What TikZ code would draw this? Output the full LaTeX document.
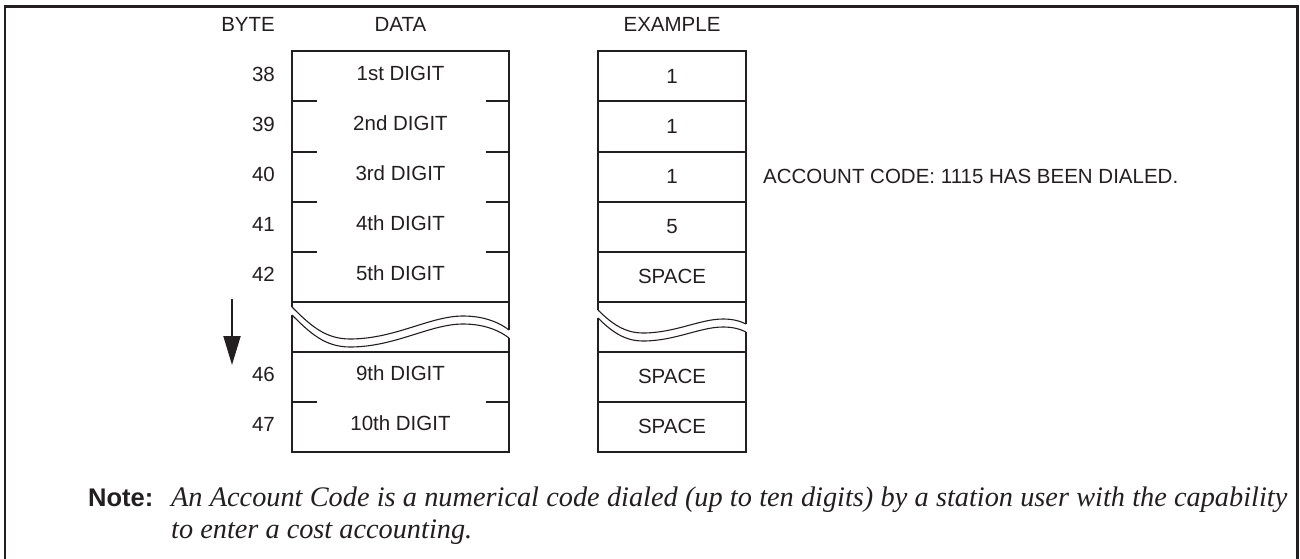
\documentclass[tikz,border=0pt]{standalone}
\usepackage{fontspec}
\setmainfont{Liberation Serif}
\setsansfont{Liberation Sans}
\usetikzlibrary{arrows.meta}
\definecolor{ink}{HTML}{231F20}
\begin{document}
\begin{tikzpicture}[x=1pt,y=-1pt,
  lbl/.style={inner sep=0pt, font=\fontsize{20.5}{24}\selectfont\sffamily, text=ink},
  boxline/.style={draw=ink, line width=2pt},
  waveline/.style={draw=ink, line width=1.1pt},
  frameline/.style={draw=ink, line width=2.6pt},
  notetext/.style={inner sep=0pt, font=\fontsize{28.3}{32}\selectfont\rmfamily\itshape, text=ink, anchor=base west},
  ]
\useasboundingbox (0,0) rectangle (1300,559);
\fill[white] (0,0) rectangle (1300,559);
% outer frame
\draw[frameline] (5,559) -- (5,6.5) -- (1297.5,6.5) -- (1297.5,559);
% headers
\node[lbl, anchor=east] (hbyte) at (275,24) {BYTE};
\node[lbl] (hdata) at (400.5,24) {DATA};
\node[lbl] (hex) at (672,24) {EXAMPLE};
% DATA box outline
\draw[boxline] (292,307) -- (292,51.5) -- (509,51.5) -- (509,330);
\draw[boxline] (292,315) -- (292,451.5) -- (509,451.5) -- (509,338);
% EXAMPLE box outline
\draw[boxline] (598,310) -- (598,51.5) -- (746,51.5) -- (746,324);
\draw[boxline] (598,318) -- (598,451.5) -- (746,451.5) -- (746,332);
% separators
\foreach \yy in {101.5,151.5,201.5,251.5,401.5}{
  \draw[boxline] (292,\yy) -- (317,\yy);
  \draw[boxline] (486,\yy) -- (509,\yy);
  \draw[boxline] (598,\yy) -- (746,\yy);
}
\foreach \yy in {301.5,351.5}{
  \draw[boxline] (292,\yy) -- (509,\yy);
  \draw[boxline] (598,\yy) -- (746,\yy);
}
% wave breaks
\foreach \dy in {0,8}{
  \draw[waveline] (292,307+\dy) .. controls (310,325+\dy) and (325,339+\dy) .. (350,339+\dy)
     .. controls (395,339+\dy) and (430,316+\dy) .. (463,316+\dy)
     .. controls (485,316+\dy) and (500,323+\dy) .. (509,330+\dy);
  \draw[waveline] (598,310+\dy) .. controls (612,324+\dy) and (625,333+\dy) .. (643,333+\dy)
     .. controls (675,333+\dy) and (700,319+\dy) .. (723,319+\dy)
     .. controls (733,319+\dy) and (740,321+\dy) .. (746,324+\dy);
}
% rows
\foreach \i/\b/\d/\e in {0/38/1st DIGIT/1, 1/39/2nd DIGIT/1, 2/40/3rd DIGIT/1, 3/41/4th DIGIT/5, 4/42/5th DIGIT/SPACE, 6/46/9th DIGIT/SPACE, 7/47/10th DIGIT/SPACE}{
  \node[lbl, anchor=east] (b\i) at (275,74.5+50*\i) {\b};
  \node[lbl] (d\i) at (400.5,73.5+50*\i) {\d};
  \node[lbl] (e\i) at (672,76.5+50*\i) {\e};
}
% arrow
\coordinate (arrs) at (232,299);
\coordinate (arre) at (232,365);
\draw[draw=ink, fill=ink, line width=2pt, -{Triangle[length=29pt,width=17pt]}] (arrs) -- (arre);
% account code text
\node[lbl, anchor=west] (acct) at (763,176.5) {ACCOUNT CODE: 1115 HAS BEEN DIALED.};
% note
\node[inner sep=0pt, font=\fontsize{25.5}{30}\selectfont\sffamily\bfseries, text=ink, anchor=base west] (note) at (88,506) {Note:};
\node[notetext] (n1) at (171,506) {\makebox[1116pt][s]{An Account Code is a numerical code dialed (up to ten digits) by a station user with the capability}};
\node[notetext] (n2) at (171,538) {to enter a cost accounting.};
\end{tikzpicture}
\end{document}
